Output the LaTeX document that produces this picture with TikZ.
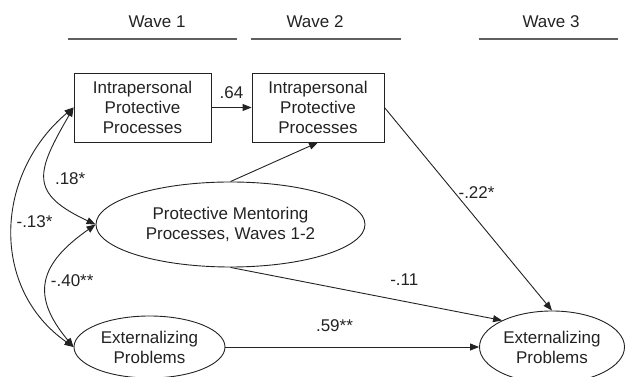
\documentclass[tikz,border=0pt]{standalone}
\usepackage{fontspec}
\setmainfont{Liberation Sans}
\usetikzlibrary{arrows.meta, shapes.geometric}
\definecolor{inkgray}{HTML}{222222}
\definecolor{rulegray}{HTML}{606060}

\begin{document}
\begin{tikzpicture}[x=1pt, y=1pt, >={Triangle[length=9pt, width=7pt]}, line width=0.9pt,
  every node/.style={font=\fontsize{17}{20}\selectfont, text=inkgray},
  waverule/.style={draw=rulegray, line width=1.4pt},
  varbox/.style={draw=inkgray, rectangle, minimum width=137pt, minimum height=69pt,
                 align=center, inner sep=0pt},
  varoval/.style={draw=inkgray, ellipse, align=center, inner sep=0pt},
  link/.style={draw=inkgray, ->},
  corr/.style={draw=inkgray, <->}]

% Frame
\useasboundingbox (0,0) rectangle (625,377);

%% WAVE HEADERS
\node (wave1) at (157,355) {Wave 1};
\node (wave2) at (315,355) {Wave 2};
\node (wave3) at (551,355) {Wave 3};
\draw[waverule] (68,338) -- (237,338);
\draw[waverule] (251,338) -- (401,338);
\draw[waverule] (479,338) -- (618,338);

%% VARIABLES
% Intrapersonal processes, waves 1 and 2
\node[varbox] (ipA) at (142.5,269.5) {Intrapersonal\\Protective\\Processes};
\node[varbox, minimum width=132pt] (ipB) at (318,269.5) {Intrapersonal\\Protective\\Processes};

% Mentoring
\node[varoval, minimum width=269pt, minimum height=85pt] (mentor) at (230.5,152.5)
      {Protective Mentoring\\Processes, Waves 1-2};

% Externalizing problems, waves 1 and 3
\node[varoval, minimum width=151pt, minimum height=62pt] (extA) at (149.5,30) {Externalizing\\Problems};
\node[varoval, minimum width=145pt, minimum height=72pt] (extC) at (552,30) {Externalizing\\Problems};

%% PATHS
\draw[link] (ipA) -- node[above=5pt] {.64} (ipB);
\draw[link] (mentor.north) -- (ipB.south);
\draw[link] (ipB.east) -- node[pos=0.42, right] {-.22*} (extC.north);
\draw[link] (mentor.south) -- node[pos=0.64, above=12pt] {-.11} (extC.152);
\draw[link] (extA) -- node[pos=0.43, above=12pt] {.59**} (extC);

%% CORRELATIONS
\draw[corr] (ipA.west) to[out=240, in=155, looseness=1.6] node[pos=0.5, right=6pt] {.18*} (mentor.west);
\draw[corr] (ipA.west) to[out=220, in=145, looseness=1.1] node[pos=0.47, right] {-.13*} (extA.west);
\draw[corr] (mentor.west) to[out=215, in=130, looseness=1.4] node[pos=0.5, right] {-.40**} (extA.west);

\end{tikzpicture}
\end{document}
